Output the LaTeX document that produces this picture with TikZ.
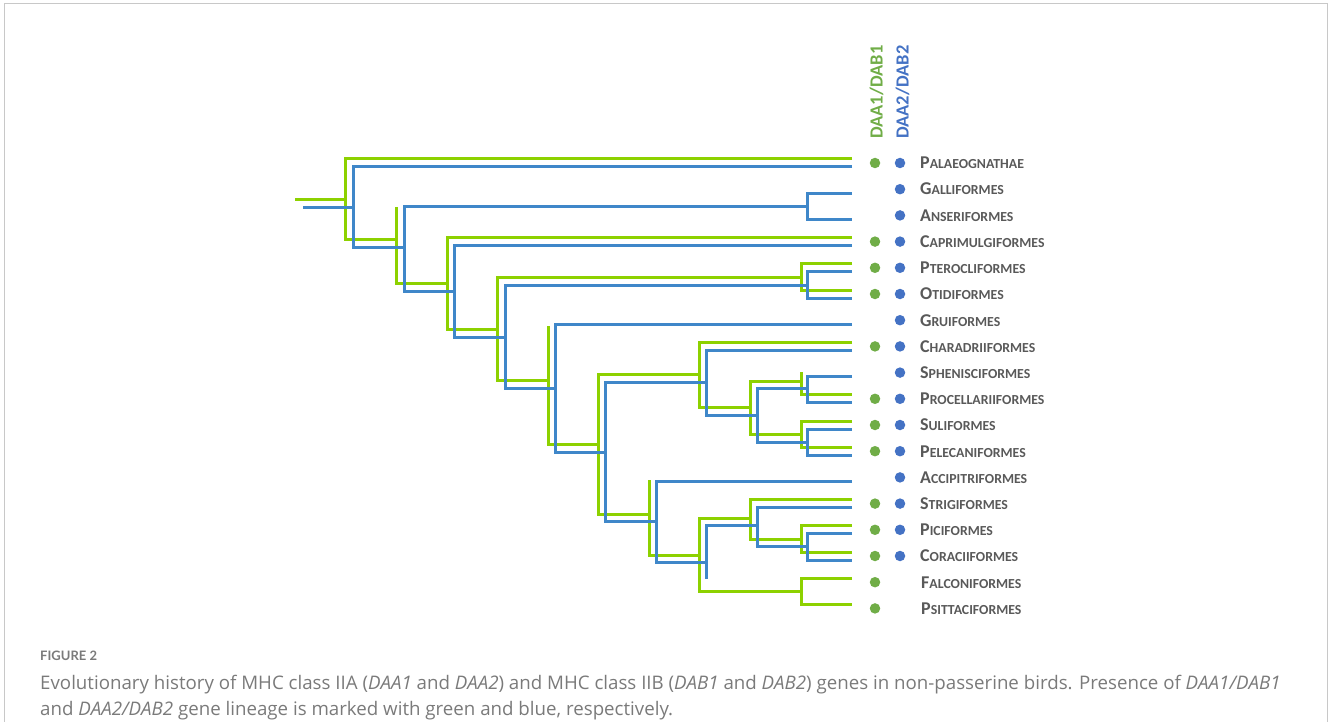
\documentclass[tikz,border=0pt]{standalone}
\usepackage{fontspec}
\setmainfont{Carlito}
\newfontfamily\capfont{Open Sans}
\newfontfamily\figfont{Lato}
\definecolor{lgreen}{HTML}{8DD100}
\definecolor{lblue}{HTML}{3F87C9}
\definecolor{dgreen}{HTML}{70AD47}
\definecolor{dblue}{HTML}{4472C4}
\definecolor{labgray}{HTML}{595959}
\definecolor{capgray}{HTML}{7A7A7A}
\definecolor{framegray}{HTML}{C8C8C8}
\newcommand{\taxon}[2]{{\fontsize{18}{18}\selectfont #1}{\fontsize{13.8}{13.8}\selectfont #2}}
\begin{document}
\begin{tikzpicture}[x=1pt,y=-1pt,
  gline/.style={draw=lgreen,line width=3pt},
  bline/.style={draw=lblue,line width=3pt},
  gdot/.style={circle,fill=dgreen,inner sep=0pt,minimum size=10.5pt},
  bdot/.style={circle,fill=dblue,inner sep=0pt,minimum size=10.5pt},
  lab/.style={anchor=base west,inner sep=0pt,text=labgray,font=\bfseries},
  head/.style={rotate=90,anchor=base west,inner sep=0pt,font=\bfseries\fontsize{18.5}{18.5}\selectfont},
  captext/.style={anchor=base west,inner sep=0pt,text=capgray,font=\capfont\fontsize{18.7}{18.7}\selectfont}]
\useasboundingbox (0,0) rectangle (1328,722);
% frame
\draw[framegray,line width=1pt] (4.5,722) -- (4.5,3.5) -- (1327,3.5) -- (1327,722);

% ---------- tip coordinates (x = 852) ----------
\coordinate (gPal) at (852,159);   \coordinate (bPal) at (852,167);
\coordinate (bGal) at (852,193.2);
\coordinate (bAns) at (852,219.4);
\coordinate (gCap) at (852,237.6); \coordinate (bCap) at (852,245.6);
\coordinate (gPte) at (852,263.8); \coordinate (bPte) at (852,271.8);
\coordinate (gOti) at (852,290);   \coordinate (bOti) at (852,298);
\coordinate (bGru) at (852,324.2);
\coordinate (gCha) at (852,342.4); \coordinate (bCha) at (852,350.4);
\coordinate (bSph) at (852,376.6);
\coordinate (gPro) at (852,394.8); \coordinate (bPro) at (852,402.8);
\coordinate (gSul) at (852,421);   \coordinate (bSul) at (852,429);
\coordinate (gPel) at (852,447.2); \coordinate (bPel) at (852,455.2);
\coordinate (bAcc) at (852,481.4);
\coordinate (gStr) at (852,499.6); \coordinate (bStr) at (852,507.6);
\coordinate (gPic) at (852,525.8); \coordinate (bPic) at (852,533.8);
\coordinate (gCor) at (852,552);   \coordinate (bCor) at (852,560);
\coordinate (gFal) at (852,578.2);
\coordinate (gPsi) at (852,604.4);

% ---------- green lineage (DAA1/DAB1) ----------
\coordinate (gRoot) at (295,200);
\draw[gline] (gRoot) -- (345,200);
\draw[gline] (gPal) -- (345,159) -- (345,240) -- (396,240);
\draw[gline] (396,207) -- (396,283) -- (447,283);
\draw[gline] (gCap) -- (447,237.6) -- (447,329) -- (497,329);
\draw[gline] (801,277) -- (497,277) -- (497,380) -- (548,380);
\draw[gline] (gPte) -- (801,263.8) -- (801,290) -- (gOti);
\draw[gline] (548,326) -- (548,444) -- (598,444);
\draw[gline] (699,374) -- (598,374) -- (598,514) -- (649,514);
\draw[gline] (gCha) -- (699,342.4) -- (699,407) -- (750,407);
\draw[gline] (801,381) -- (750,381) -- (750,434) -- (801,434);
\draw[gline] (801,372) -- (801,394.8) -- (gPro);
\draw[gline] (gSul) -- (801,421) -- (801,447.2) -- (gPel);
\draw[gline] (649,480) -- (649,555) -- (699,555);
\draw[gline] (750,518) -- (699,518) -- (699,591) -- (801,591);
\draw[gline] (gStr) -- (750,499.6) -- (750,539) -- (801,539);
\draw[gline] (gPic) -- (801,525.8) -- (801,552) -- (gCor);
\draw[gline] (gFal) -- (801,578.2) -- (801,604.4) -- (gPsi);

% ---------- blue lineage (DAA2/DAB2) ----------
\coordinate (bRoot) at (303,208);
\draw[bline] (bRoot) -- (353,208);
\draw[bline] (bPal) -- (353,167) -- (353,248) -- (404,248);
\draw[bline] (807,207) -- (404,207) -- (404,291) -- (454,291);
\draw[bline] (bGal) -- (807,193.2) -- (807,219.4) -- (bAns);
\draw[bline] (bCap) -- (454,245.6) -- (454,337) -- (505,337);
\draw[bline] (807,285) -- (505,285) -- (505,388) -- (555,388);
\draw[bline] (bPte) -- (807,271.8) -- (807,298) -- (bOti);
\draw[bline] (bGru) -- (555,324.2) -- (555,452) -- (605,452);
\draw[bline] (706,382) -- (605,382) -- (605,521) -- (656,521);
\draw[bline] (bCha) -- (706,350.4) -- (706,415) -- (757,415);
\draw[bline] (807,388) -- (757,388) -- (757,442) -- (807,442);
\draw[bline] (bSph) -- (807,376.6) -- (807,402.8) -- (bPro);
\draw[bline] (bSul) -- (807,429) -- (807,455.2) -- (bPel);
\draw[bline] (bAcc) -- (656,481.4) -- (656,562) -- (706,562);
\draw[bline] (757,525) -- (706,525) -- (706,579);
\draw[bline] (bStr) -- (757,507.6) -- (757,546) -- (807,546);
\draw[bline] (bPic) -- (807,533.8) -- (807,560) -- (bCor);

% ---------- column heads ----------
\node[head,text=dgreen] (h1) at (882.5,139) {DAA1/DAB1};
\node[head,text=dblue]  (h2) at (908.5,139) {DAA2/DAB2};

% ---------- dots ----------
\node[gdot] (d1g) at (875,163) {};     \node[bdot] (d1b) at (900,163) {};
                                        \node[bdot] (d2b) at (900,189.2) {};
                                        \node[bdot] (d3b) at (900,215.4) {};
\node[gdot] (d4g) at (875,241.6) {};   \node[bdot] (d4b) at (900,241.6) {};
\node[gdot] (d5g) at (875,267.8) {};   \node[bdot] (d5b) at (900,267.8) {};
\node[gdot] (d6g) at (875,294) {};     \node[bdot] (d6b) at (900,294) {};
                                        \node[bdot] (d7b) at (900,320.2) {};
\node[gdot] (d8g) at (875,346.4) {};   \node[bdot] (d8b) at (900,346.4) {};
                                        \node[bdot] (d9b) at (900,372.6) {};
\node[gdot] (d10g) at (875,398.8) {};  \node[bdot] (d10b) at (900,398.8) {};
\node[gdot] (d11g) at (875,425) {};    \node[bdot] (d11b) at (900,425) {};
\node[gdot] (d12g) at (875,451.2) {};  \node[bdot] (d12b) at (900,451.2) {};
                                        \node[bdot] (d13b) at (900,477.4) {};
\node[gdot] (d14g) at (875,503.6) {};  \node[bdot] (d14b) at (900,503.6) {};
\node[gdot] (d15g) at (875,529.8) {};  \node[bdot] (d15b) at (900,529.8) {};
\node[gdot] (d16g) at (875,556) {};    \node[bdot] (d16b) at (900,556) {};
\node[gdot] (d17g) at (875,582.2) {};
\node[gdot] (d18g) at (875,608.4) {};

% ---------- labels ----------
\node[lab] (l1)  at (920,168.8) {\taxon{P}{ALAEOGNATHAE}};
\node[lab] (l2)  at (920,195) {\taxon{G}{ALLIFORMES}};
\node[lab] (l3)  at (920,221.2) {\taxon{A}{NSERIFORMES}};
\node[lab] (l4)  at (920,247.4) {\taxon{C}{APRIMULGIFORMES}};
\node[lab] (l5)  at (920,273.6) {\taxon{P}{TEROCLIFORMES}};
\node[lab] (l6)  at (920,299.8) {\taxon{O}{TIDIFORMES}};
\node[lab] (l7)  at (920,326) {\taxon{G}{RUIFORMES}};
\node[lab] (l8)  at (920,352.2) {\taxon{C}{HARADRIIFORMES}};
\node[lab] (l9)  at (920,378.4) {\taxon{S}{PHENISCIFORMES}};
\node[lab] (l10) at (920,404.6) {\taxon{P}{ROCELLARIIFORMES}};
\node[lab] (l11) at (920,430.8) {\taxon{S}{ULIFORMES}};
\node[lab] (l12) at (920,457) {\taxon{P}{ELECANIFORMES}};
\node[lab] (l13) at (920,483.2) {\taxon{A}{CCIPITRIFORMES}};
\node[lab] (l14) at (920,509.4) {\taxon{S}{TRIGIFORMES}};
\node[lab] (l15) at (920,535.6) {\taxon{P}{ICIFORMES}};
\node[lab] (l16) at (920,561.8) {\taxon{C}{ORACIIFORMES}};
\node[lab] (l17) at (921,588) {\taxon{F}{ALCONIFORMES}};
\node[lab] (l18) at (921,614.2) {\taxon{P}{SITTACIFORMES}};

% ---------- caption ----------
\node[captext,font=\figfont\bfseries\fontsize{13}{13}\selectfont] (fig) at (40,660) {FIGURE 2};
\node[captext] (c1) at (40,689.5) {Evolutionary history of MHC class IIA (\textit{DAA1} and \textit{DAA2}) and MHC class IIB (\textit{DAB1} and \textit{DAB2}) genes in non-passerine birds. Presence of \textit{DAA1/DAB1}};
\node[captext] (c2) at (40,715.5) {and \textit{DAA2/DAB2} gene lineage is marked with green and blue, respectively.};
\end{tikzpicture}
\end{document}
